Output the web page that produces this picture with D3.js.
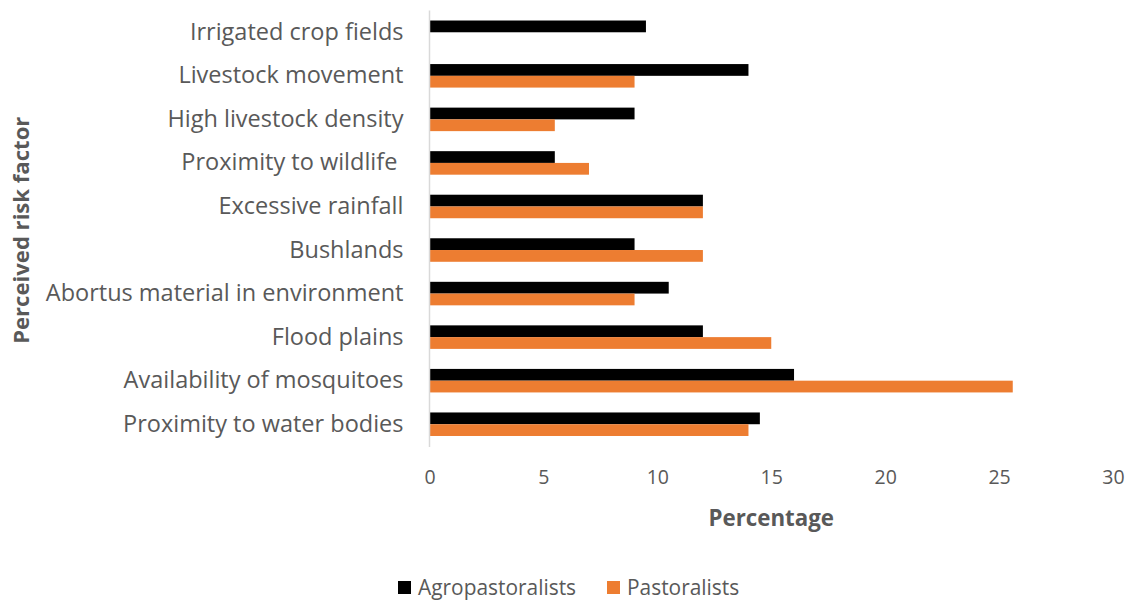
<!DOCTYPE html>
<html>
<head>
<meta charset="utf-8">
<script src="https://cdn.jsdelivr.net/npm/d3@7"></script>
<style>
  html, body { margin: 0; padding: 0; background: #fff; }
  text { font-family: "Open Sans", "Noto Sans", sans-serif; }
</style>
</head>
<body>
<svg id="chart" width="1130" height="602"></svg>
<script>
// Perceived risk factors, listed top to bottom
const categories = [
  "Irrigated crop fields",
  "Livestock movement",
  "High livestock density",
  "Proximity to wildlife ",
  "Excessive rainfall",
  "Bushlands",
  "Abortus material in environment",
  "Flood plains",
  "Availability of mosquitoes",
  "Proximity to water bodies"
];
const agropastoralists = [9.5, 14, 9, 5.5, 12, 9, 10.5, 12, 16, 14.5];
const pastoralists     = [0, 9, 5.5, 7, 12, 12, 9, 15, 25.6, 14];
const seriesNames = ["Agropastoralists", "Pastoralists"];
const seriesColors = ["#000000", "#ED7D31"];
const xTicks = [0, 5, 10, 15, 20, 25, 30];

const svg = d3.select("#chart");
const plot = { left: 429.5, right: 1113, top: 10.5, bottom: 446 };

const x = d3.scaleLinear().domain([0, 30]).range([plot.left, plot.right]);
const y = d3.scaleBand().domain(categories).range([plot.top, plot.bottom]).paddingInner(0.46).paddingOuter(0.23);
const inner = d3.scaleBand().domain(seriesNames).range([0, y.bandwidth()]);

const rows = categories.map((c, i) => ({ c, vals: [agropastoralists[i], pastoralists[i]] }));

// bars
const g = svg.append("g");
rows.forEach(r => {
  seriesNames.forEach((s, k) => {
    if (r.vals[k] <= 0) return;
    g.append("rect")
      .attr("x", x(0))
      .attr("y", y(r.c) + inner(s))
      .attr("width", x(r.vals[k]) - x(0))
      .attr("height", inner.bandwidth())
      .attr("fill", seriesColors[k]);
  });
});

// vertical category axis line
svg.append("line")
  .attr("x1", plot.left).attr("x2", plot.left)
  .attr("y1", plot.top).attr("y2", plot.bottom + 1)
  .attr("stroke", "#d9d9d9").attr("stroke-width", 1.5);

// category labels
const yAxis = d3.axisLeft(y).tickSize(0).tickPadding(26);
const ya = svg.append("g").attr("transform", `translate(${plot.left},0)`).call(yAxis);
ya.select(".domain").remove();
ya.selectAll("text")
  .attr("font-size", 23.5)
  .attr("fill", "#595959")
  .style("font-family", "'Open Sans', sans-serif")
  .style("white-space", "pre");

// value axis tick labels
const xAxis = d3.axisBottom(x).tickValues(xTicks).tickSize(0).tickPadding(0);
const xa = svg.append("g").attr("transform", `translate(0,${plot.bottom + 24})`).call(xAxis);
xa.select(".domain").remove();
xa.selectAll("text")
  .attr("font-size", 19.5)
  .attr("fill", "#595959")
  .attr("dy", "0.71em")
  .style("font-family", "'Open Sans', sans-serif");

// axis titles
svg.append("text")
  .attr("x", (plot.left + plot.right) / 2)
  .attr("y", 526)
  .attr("text-anchor", "middle")
  .attr("font-size", 22.3)
  .attr("font-weight", "bold")
  .attr("fill", "#595959")
  .text("Percentage");

svg.append("text")
  .attr("transform", `translate(29,${(plot.top + plot.bottom) / 2 + 2}) rotate(-90)`)
  .attr("text-anchor", "middle")
  .attr("font-size", 22.1)
  .attr("font-weight", "bold")
  .attr("fill", "#595959")
  .text("Perceived risk factor");

// legend
const legend = svg.append("g").attr("transform", "translate(398,581)");
const legendX = [0, 209];
seriesNames.forEach((s, k) => {
  const lg = legend.append("g").attr("transform", `translate(${legendX[k]},0)`);
  lg.append("rect").attr("width", 13).attr("height", 13).attr("fill", seriesColors[k]);
  lg.append("text")
    .attr("x", 20).attr("y", 6.5).attr("dy", "0.36em")
    .attr("font-size", 20.9)
    .attr("fill", "#595959")
    .text(s);
});
</script>
</body>
</html>
